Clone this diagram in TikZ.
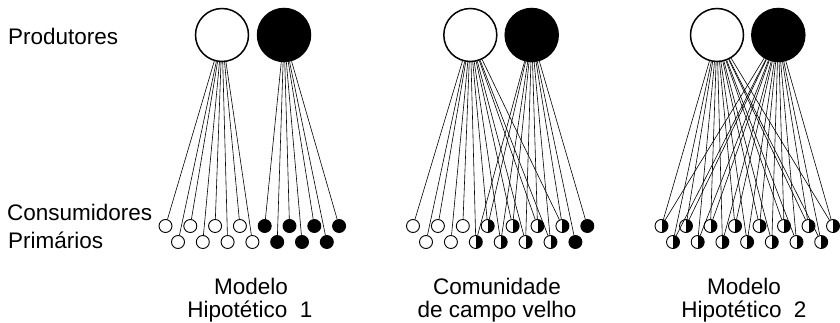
\documentclass[tikz,border=0pt]{standalone}
\usepackage{fontspec}
\setmainfont{Liberation Sans}
\begin{document}
\begin{tikzpicture}[x=1pt,y=-1pt,
  prodw/.style={circle,draw=black,line width=1.5pt,fill=white,minimum size=53pt,inner sep=0pt},
  prodk/.style={circle,draw=black,line width=1.5pt,fill=black,minimum size=53pt,inner sep=0pt},
  sw/.style={circle,draw=black,line width=0.9pt,fill=white,minimum size=13pt,inner sep=0pt},
  sk/.style={circle,draw=black,line width=0.9pt,fill=black,minimum size=13pt,inner sep=0pt},
  sh/.style={circle,draw=black,line width=0.9pt,fill=white,minimum size=13pt,inner sep=0pt,
     path picture={\fill[black] (path picture bounding box.south) rectangle (path picture bounding box.north east);}},
  link/.style={draw=black,line width=0.6pt},
  lbl/.style={font=\fontsize{22.5}{25}\selectfont,inner sep=0pt}]
\useasboundingbox (0,0) rectangle (840,323);
% labels
\node[lbl,anchor=base west] (tprod) at (8,45) {Produtores};
\node[lbl,anchor=base west] (tcons) at (7,220) {Consumidores};
\node[lbl,anchor=base west] (tprim) at (8,248) {Primários};
\node[lbl,anchor=base] (m1a) at (251,294) {Modelo};
\node[lbl,anchor=base] (m1b) at (250,317) {Hipotético\ \ 1};
\node[lbl,anchor=base] (m2a) at (497,294) {Comunidade};
\node[lbl,anchor=base] (m2b) at (497,317) {de\ campo\ velho};
\node[lbl,anchor=base] (m3a) at (744,294) {Modelo};
\node[lbl,anchor=base] (m3b) at (744,317) {Hipotético\ \ 2};
% producers
\node[prodw] (p1w) at (222,35) {};
\node[prodk] (p1k) at (284,35) {};
\node[prodw] (p2w) at (470.3,35) {};
\node[prodk] (p2k) at (531.7,35) {};
\node[prodw] (p3w) at (717,35) {};
\node[prodk] (p3k) at (778.3,35) {};
% panel 1
\foreach \i/\k in {1/w,2/w,3/w,4/w,5/k,6/k,7/k,8/k}
  \node[s\k] (a1-\i) at ({165.5+(\i-1)*24.8},226) {};
\foreach \i/\k in {1/w,2/w,3/w,4/w,5/k,6/k,7/k}
  \node[s\k] (b1-\i) at ({178+(\i-1)*24.8},242) {};
\foreach \i in {1,...,4} \path[link] (a1-\i) -- (p1w);
\foreach \i in {5,...,8} \path[link] (a1-\i) -- (p1k);
\foreach \i in {1,...,4} \path[link] (b1-\i) -- (p1w);
\foreach \i in {5,...,7} \path[link] (b1-\i) -- (p1k);
% panel 2
\foreach \i/\k in {1/w,2/w,3/w,4/h,5/h,6/h,7/h,8/k}
  \node[s\k] (a2-\i) at ({413+(\i-1)*24.9},226) {};
\foreach \i/\k in {1/w,2/w,3/h,4/h,5/h,6/h,7/k}
  \node[s\k] (b2-\i) at ({426+(\i-1)*24.9},242) {};
\foreach \i in {1,...,3} \path[link] (a2-\i) -- (p2w);
\foreach \i in {4,...,7} {\path[link] (a2-\i) -- (p2w); \path[link] (a2-\i) -- (p2k);}
\path[link] (a2-8) -- (p2k);
\foreach \i in {1,2} \path[link] (b2-\i) -- (p2w);
\foreach \i in {3,...,6} {\path[link] (b2-\i) -- (p2w); \path[link] (b2-\i) -- (p2k);}
\path[link] (b2-7) -- (p2k);
% panel 3
\foreach \i in {1,...,8}
  \node[sh] (a3-\i) at ({661.5+(\i-1)*24.5},226) {};
\foreach \i in {1,...,7}
  \node[sh] (b3-\i) at ({673+(\i-1)*24.7},242) {};
\foreach \i in {1,...,8} {\path[link] (a3-\i) -- (p3w); \path[link] (a3-\i) -- (p3k);}
\foreach \i in {1,...,7} {\path[link] (b3-\i) -- (p3w); \path[link] (b3-\i) -- (p3k);}
\end{tikzpicture}
\end{document}
